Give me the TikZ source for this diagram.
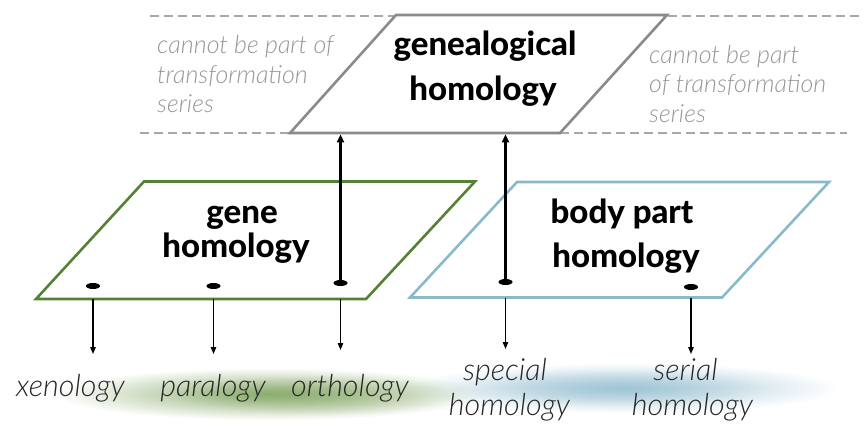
\documentclass[tikz,border=0pt]{standalone}
\usepackage{fontspec}
\setmainfont{Lato}
\IfFontExistsTF{Lato Light Italic}
  {\newfontfamily\notefont{Lato Light Italic}}
  {\newfontfamily\notefont{Lato Italic}}
\IfFontExistsTF{Lato Heavy}
  {\newfontfamily\headfont{Lato Heavy}}
  {\newfontfamily\headfont{Lato Bold}}
\usetikzlibrary{arrows.meta,calc,positioning,shapes,fadings}
\definecolor{planegray}{RGB}{138,138,138}
\definecolor{dashgray}{RGB}{168,168,168}
\definecolor{notegray}{RGB}{150,150,150}
\definecolor{genegreen}{RGB}{84,130,53}
\definecolor{bodyblue}{RGB}{136,186,204}
\definecolor{glowgreen}{RGB}{140,172,110}
\definecolor{glowblue}{RGB}{160,197,214}
\tikzfading[name=glowfade, inner color=transparent!0, outer color=transparent!100]
\tikzstyle{plane}=[
  fill=white,
  line join=miter,
  line width=2.6pt,
]
\tikzstyle{header}=[
  anchor=base,
  font={\headfont\fontsize{33}{33}\selectfont},
  inner sep=0pt,
]
\tikzstyle{note}=[
  anchor=base west,
  color=notegray,
  font={\notefont\fontsize{25}{25}\selectfont},
  inner sep=0pt,
]
\tikzstyle{leaf}=[
  anchor=base,
  color=black!85,
  font={\notefont\fontsize{30.5}{30.5}\selectfont},
  inner sep=0pt,
]
\tikzstyle{dot}=[
  ellipse,
  fill=black,
  inner sep=0pt,
  minimum height=6pt,
  minimum width=14pt,
]
\tikzstyle{uparrow}=[
  -{Triangle[length=8pt,width=7pt]},
  line width=2.5pt,
  shorten >=1.4pt,
]
\tikzstyle{downarrow}=[
  -{Triangle[length=7pt,width=5.5pt]},
  line width=1.3pt,
]
\tikzstyle{separator}=[
  dash pattern=on 9pt off 5pt,
  draw=dashgray,
  line width=1.3pt,
]
\begin{document}
\begin{tikzpicture}[x=1pt, y=-1pt]
      \useasboundingbox (0,0) rectangle (864,423);
      %% glows under the leaves
      \fill [glowgreen, path fading=glowfade] (270,394) ellipse (215 and 26);
      \fill [glowgreen, path fading=glowfade, fill opacity=.5] (320,395) ellipse (140 and 20);
      \fill [glowblue, path fading=glowfade] (625,388) ellipse (215 and 25);
      \fill [glowblue, path fading=glowfade, fill opacity=.5] (610,388) ellipse (160 and 18);
      %% dashed band
      \coordinate (topL) at (150,16);
      \coordinate (topR) at (864,16);
      \coordinate (botL) at (140,133);
      \coordinate (botR) at (847,133);
      \draw [separator] (topL) -- (topR);
      \draw [separator] (botL) -- (botR);
      %% planes
      \coordinate (gA) at (396,15);
      \coordinate (gB) at (667,15);
      \coordinate (gC) at (560,133);
      \coordinate (gD) at (290,133);
      \draw [plane, draw=planegray] (gA) -- (gB) -- (gC) -- (gD) -- cycle;
      \coordinate (nA) at (144,181.5);
      \coordinate (nB) at (475,181.5);
      \coordinate (nC) at (366,299);
      \coordinate (nD) at (36,299);
      \draw [plane, draw=genegreen] (nA) -- (nB) -- (nC) -- (nD) -- cycle;
      \coordinate (bA) at (517,182);
      \coordinate (bB) at (829,182);
      \coordinate (bC) at (722,297.5);
      \coordinate (bD) at (410,297.5);
      \draw [plane, draw=bodyblue] (bA) -- (bB) -- (bC) -- (bD) -- cycle;
      %% titles
      \node (genealogical) [header] at (485,55) {genealogical};
      \node (genealogicalB) [header] at (483,100) {homology};
      \node (gene) [header] at (242,223) {gene};
      \node (geneB) [header] at (236,257) {homology};
      \node (bodypart) [header] at (622,223) {body part};
      \node (bodypartB) [header] at (626,267) {homology};
      %% side notes
      \node (leftnote) [note] at (157,53) {cannot be part of};
      \node (leftnoteB) [note] at (157,83) {transformation};
      \node (leftnoteC) [note] at (157,112) {series};
      \node (rightnote) [note] at (649,63) {cannot be part};
      \node (rightnoteB) [note] at (649,92) {of transformation};
      \node (rightnoteC) [note] at (649,122) {series};
      %% dots
      \node (xenodot) [dot] at (93,286) {};
      \node (paradot) [dot] at (213.5,286) {};
      \node (orthodot) [dot] at (340.5,283) {};
      \node (specialdot) [dot] at (505.5,282) {};
      \node (serialdot) [dot] at (691,287) {};
      \draw [uparrow] (orthodot.center) -- (orthodot |- gD);
      \draw [uparrow] (specialdot.center) -- (specialdot |- gD);
      %% leaves
      \coordinate (xenotip) at (93,354);
      \coordinate (paratip) at (213.5,354);
      \coordinate (orthotip) at (340.5,350);
      \coordinate (specialtip) at (505.5,349);
      \coordinate (serialtip) at (691,354);
      \draw [downarrow] (xenodot |- nD) -- (xenotip);
      \draw [downarrow] (paradot |- nD) -- (paratip);
      \draw [downarrow] (orthodot |- nD) -- (orthotip);
      \draw [downarrow] (specialdot |- bD) -- (specialtip);
      \draw [downarrow] (serialdot |- bD) -- (serialtip);
      \node (xenology) [leaf] at (70.5,396) {xenology};
      \node (paralogy) [leaf] at (213,396) {paralogy};
      \node (orthology) [leaf] at (350,396) {orthology};
      \node (special) [leaf] at (505,380) {special};
      \node (specialB) [leaf] at (509.5,415) {homology};
      \node (serial) [leaf] at (685.5,380) {serial};
      \node (serialB) [leaf] at (692.5,415) {homology};
    \end{tikzpicture}
\end{document}
